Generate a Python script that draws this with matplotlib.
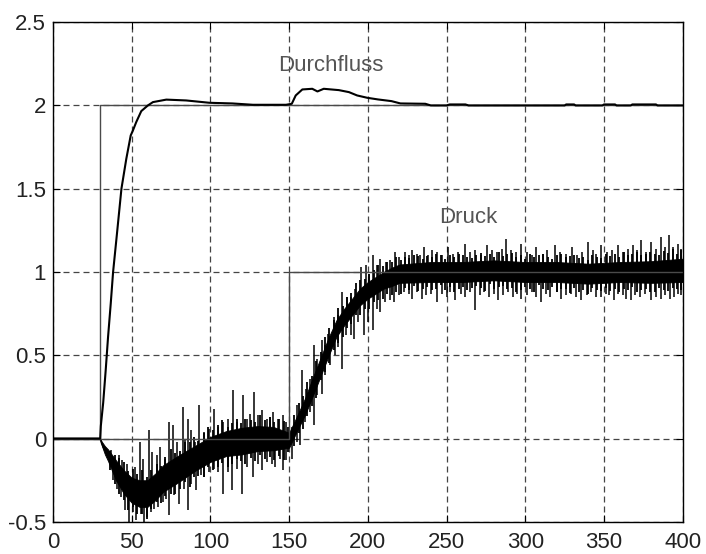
import matplotlib
matplotlib.use('Agg')
import matplotlib.pyplot as plt
import numpy as np

# setpoints (Sollwerte)
sp_fl_x = [0, 30, 30, 400]
sp_fl_y = [0, 0, 2, 2]
sp_pr_x = [0, 150, 150, 400]
sp_pr_y = [0, 0, 1, 1]

# flow response (Durchfluss)
fl_x = [0, 30, 30.4, 31.9, 33.5, 35, 36.7, 38.2, 40.7, 43.5, 46.6, 49.4, 50.8, 52.9,
        56.1, 60.3, 63.5, 72, 84.6, 99.4, 114, 127, 148, 151.7, 154.2, 158.4, 164.7,
        168, 172, 181.6, 188, 193.2, 199.6, 206.5, 215, 220.7, 236.5, 240, 250, 252,
        262, 264, 325, 326, 331, 332, 349, 350, 357, 358, 367, 368, 383, 384, 400]
fl_y = [0, 0, 0.075, 0.214, 0.41, 0.61, 0.81, 1.0, 1.234, 1.5, 1.68, 1.82, 1.85, 1.9,
        1.966, 2.0, 2.02, 2.035, 2.03, 2.016, 2.012, 2.004, 2.004, 2.01, 2.06, 2.096, 2.1,
        2.084, 2.1, 2.092, 2.08, 2.06, 2.046, 2.036, 2.026, 2.012, 2.01, 2.0, 2.0, 2.006,
        2.006, 2.0, 2.0, 2.006, 2.006, 2.0, 2.0, 2.006, 2.006, 2.0, 2.0, 2.006, 2.006, 2.0, 2.0]

# pressure response (Druck): mean value and half width of the dense noise core
pr_x = [0, 30, 31, 33, 35, 40, 45, 50, 55, 60, 65, 70, 80, 90, 100, 110, 120, 130, 140,
        150, 155, 160, 165, 170, 175, 180, 185, 190, 195, 200, 205, 210, 215, 220, 240,
        260, 280, 300, 320, 340, 360, 380, 400]
pr_mean = [0, 0, -0.03, -0.07, -0.1, -0.19, -0.26, -0.31, -0.33, -0.33, -0.29, -0.24,
           -0.18, -0.12, -0.065, -0.03, -0.015, 0.0, 0.0, -0.01, 0.09, 0.19, 0.31, 0.43,
           0.55, 0.66, 0.73, 0.79, 0.85, 0.89, 0.92, 0.95, 0.97, 0.99, 1.0, 1.0, 1.01,
           1.0, 1.0, 0.99, 1.0, 1.0, 1.01]
pr_hw = [0, 0, 0.012, 0.025, 0.035, 0.06, 0.07, 0.075, 0.08, 0.08, 0.08, 0.08, 0.08,
         0.075, 0.075, 0.075, 0.08, 0.075, 0.07, 0.045, 0.045, 0.05, 0.055, 0.055, 0.055,
         0.05, 0.05, 0.05, 0.05, 0.05, 0.05, 0.05, 0.055, 0.055, 0.06, 0.06, 0.06,
         0.06, 0.06, 0.06, 0.06, 0.065, 0.07]

# large noise spikes of the pressure signal (x, tip)
up_x = [37, 42, 44, 47, 52, 55, 57, 61, 63, 66, 68, 71, 74, 76, 79, 82.5, 84, 85.7, 88, 90,
        93, 96, 99, 102.5, 105, 108, 111, 114.6, 117, 120.5, 123, 125, 127.6, 130, 133, 136,
        138, 140, 143, 146, 148,
        152, 155, 158, 161, 163, 165.8, 168, 170.6, 173, 175, 178.5, 181, 183.7, 187, 189,
        192, 195.4, 199, 201, 203.4, 206, 208, 211.5, 214, 217.4, 220, 223.7, 226, 228, 231,
        233, 235.6, 238, 240.7,
        244, 247, 251, 254, 257, 261.8, 265, 268, 272, 275.5, 279, 282, 285, 288, 291, 294,
        297.6, 301, 304, 307, 311, 314, 318.7, 322, 326, 330, 333, 336, 339.9, 343, 345,
        348.4, 352, 355, 358.9, 362, 365, 368.4, 371, 373.7, 377, 380, 383, 386.3, 389,
        391.6, 394, 396.8, 399]
up_y = [-0.07, -0.1, -0.13, -0.15, -0.17, -0.02, -0.12, 0.05, -0.08, -0.1, -0.05, -0.12,
        0.1, 0.08, -0.02, 0.19, 0.0, 0.12, 0.05, -0.02, 0.2, 0.04, 0.06, 0.18, 0.07, 0.1,
        0.12, 0.29, 0.1, 0.26, 0.12, 0.15, 0.28, 0.14, 0.17, 0.12, 0.13, 0.16, 0.12, 0.14, 0.1,
        0.07, 0.2, 0.41, 0.3, 0.36, 0.56, 0.48, 0.59, 0.56, 0.63, 0.73, 0.74, 0.88, 0.85, 0.85,
        0.9, 1.03, 1.04, 0.99, 1.1, 1.04, 1.08, 1.06, 1.07, 1.12, 1.09, 1.12, 1.1, 1.13, 1.11,
        1.1, 1.15, 1.1, 1.13,
        1.12, 1.1, 1.15, 1.11, 1.12, 1.17, 1.12, 1.13, 1.1, 1.16, 1.13, 1.12, 1.14, 1.2, 1.13,
        1.12, 1.17, 1.12, 1.1, 1.15, 1.11, 1.13, 1.16, 1.12, 1.11, 1.15, 1.1, 1.12, 1.18,
        1.13, 1.11, 1.16, 1.12, 1.13, 1.16, 1.12, 1.14, 1.16, 1.13, 1.19, 1.12, 1.18, 1.14,
        1.21, 1.15, 1.22, 1.15, 1.17, 1.14]
dn_x = [38, 41, 43, 46, 48.5, 51, 53, 56, 58, 60, 62, 64.5, 67, 70, 72, 74, 77, 80, 83,
        85.7, 88, 91, 94, 96, 99, 102, 105, 107.8, 111, 114, 117, 120, 123, 127, 130, 133,
        136, 139, 141, 144, 146, 148,
        152, 155, 157, 160.4, 163, 166, 168, 170.6, 173, 176, 179, 181, 183.7, 186, 189, 191,
        194, 197.7, 200, 203.4, 206, 208, 211, 214, 216.7, 220, 223, 226, 228, 231, 234.6,
        237, 240, 244,
        247, 250, 252, 255.5, 259, 262, 265, 268, 271, 274, 277, 280, 283, 286, 289, 292,
        295, 297.6, 301, 304, 307, 310, 313, 316, 320, 323, 326, 329, 332, 335.4, 339, 342,
        345, 348, 351, 353.5, 356.5, 359, 362, 364, 367, 370, 373, 376, 380, 383, 386, 389,
        392, 394.5, 396.8, 399]
dn_y = [-0.25, -0.3, -0.35, -0.43, -0.5, -0.44, -0.49, -0.45, -0.5, -0.47, -0.44, -0.42,
        -0.41, -0.38, -0.36, -0.46, -0.34, -0.39, -0.3, -0.43, -0.27, -0.31, -0.22, -0.23,
        -0.2, -0.18, -0.2, -0.33, -0.2, -0.31, -0.18, -0.33, -0.17, -0.23, -0.15, -0.19,
        -0.14, -0.15, -0.17, -0.12, -0.19, -0.13,
        -0.12, -0.02, -0.04, 0.1, 0.16, 0.08, 0.26, 0.27, 0.38, 0.44, 0.5, 0.55, 0.42, 0.62,
        0.62, 0.6, 0.7, 0.62, 0.7, 0.65, 0.78, 0.76, 0.82, 0.83, 0.82, 0.86, 0.88, 0.87, 0.84,
        0.88, 0.84, 0.86, 0.87, 0.82,
        0.87, 0.85, 0.88, 0.83, 0.87, 0.85, 0.88, 0.77, 0.86, 0.88, 0.85, 0.87, 0.83, 0.86,
        0.88, 0.85, 0.87, 0.84, 0.86, 0.88, 0.85, 0.82, 0.87, 0.85, 0.88, 0.84, 0.86, 0.87,
        0.85, 0.83, 0.86, 0.88, 0.85, 0.85, 0.87, 0.86, 0.83, 0.87, 0.86, 0.84, 0.83, 0.86,
        0.85, 0.87, 0.83, 0.85, 0.84, 0.86, 0.84, 0.85, 0.87, 0.86]

# small noise spikes just outside the core (x, offset above / below mean)
sm_x = [36.5, 39.2, 41.8, 45.1, 47.6, 50.9, 53.7, 56.4, 59.8, 62.5,
        65.9, 68.6, 71.3, 74.8, 77.5, 80.8, 83.6, 86.9, 89.7, 92.4,
        95.8, 98.5, 101.7, 104.6, 107.3, 110.9, 113.5, 116.8, 119.6, 122.3,
        125.9, 128.4, 131.7, 134.5, 137.8, 140.6, 143.3, 146.9, 149.5, 153.2,
        156.1, 158.9, 161.6, 164.4, 167.3, 170.1, 172.8, 175.6, 178.3, 181.2,
        184.1, 186.8, 189.6, 192.7, 195.3, 198.2, 200.9, 203.8, 206.6, 209.5,
        212.3, 215.1, 217.9, 220.8, 223.6, 226.4, 229.2, 232.1, 234.9, 237.7,
        240.6, 243.4, 246.2, 249.1, 251.9, 254.7, 257.6, 260.4, 263.2, 266.1,
        268.9, 271.7, 274.6, 277.4, 280.2, 283.1, 285.9, 288.7, 291.6, 294.4,
        297.2, 300.1, 302.9, 305.7, 308.6, 311.4, 314.2, 317.1, 319.9, 322.7,
        325.6, 328.4, 331.2, 334.1, 336.9, 339.7, 342.6, 345.4, 348.2, 351.1,
        353.9, 356.7, 359.6, 362.4, 365.2, 368.1, 370.9, 373.7, 376.6, 379.4,
        382.2, 385.1, 387.9, 390.7, 393.6, 396.4, 398.8]
sm_up = [0.05, 0.08, 0.10, 0.12, 0.09, 0.13, 0.11, 0.14, 0.10, 0.12,
         0.13, 0.09, 0.12, 0.15, 0.11, 0.10, 0.14, 0.12, 0.13, 0.09,
         0.12, 0.14, 0.11, 0.13, 0.15, 0.10, 0.12, 0.14, 0.11, 0.13,
         0.12, 0.10, 0.14, 0.11, 0.13, 0.10, 0.12, 0.11, 0.08, 0.09,
         0.10, 0.09, 0.11, 0.08, 0.10, 0.09, 0.11, 0.10, 0.09, 0.11,
         0.08, 0.10, 0.09, 0.11, 0.10, 0.08, 0.09, 0.10, 0.11, 0.09,
         0.10, 0.09, 0.11, 0.08, 0.10, 0.09, 0.11, 0.10, 0.08, 0.10,
         0.09, 0.11, 0.10, 0.08, 0.10, 0.09, 0.11, 0.10, 0.09, 0.08,
         0.10, 0.11, 0.09, 0.10, 0.08, 0.11, 0.09, 0.10, 0.11, 0.09,
         0.10, 0.08, 0.11, 0.09, 0.10, 0.11, 0.09, 0.08, 0.10, 0.11,
         0.09, 0.10, 0.11, 0.09, 0.10, 0.08, 0.11, 0.10, 0.09, 0.11,
         0.10, 0.11, 0.09, 0.12, 0.10, 0.11, 0.12, 0.10, 0.11, 0.12,
         0.11, 0.10, 0.12, 0.11, 0.13, 0.10, 0.12]
sm_dn = [0.06, 0.10, 0.12, 0.11, 0.14, 0.10, 0.13, 0.12, 0.15, 0.11,
         0.10, 0.13, 0.11, 0.12, 0.14, 0.13, 0.10, 0.15, 0.11, 0.12,
         0.14, 0.10, 0.13, 0.12, 0.11, 0.14, 0.13, 0.10, 0.12, 0.14,
         0.11, 0.13, 0.10, 0.12, 0.11, 0.13, 0.10, 0.12, 0.07, 0.10,
         0.08, 0.11, 0.09, 0.10, 0.12, 0.08, 0.10, 0.11, 0.09, 0.10,
         0.11, 0.09, 0.10, 0.08, 0.11, 0.10, 0.12, 0.09, 0.10, 0.11,
         0.09, 0.11, 0.10, 0.12, 0.09, 0.10, 0.08, 0.11, 0.10, 0.09,
         0.11, 0.10, 0.08, 0.11, 0.09, 0.12, 0.10, 0.09, 0.11, 0.10,
         0.09, 0.10, 0.12, 0.08, 0.11, 0.10, 0.09, 0.11, 0.10, 0.12,
         0.11, 0.09, 0.10, 0.12, 0.08, 0.10, 0.11, 0.09, 0.12, 0.10,
         0.10, 0.12, 0.09, 0.11, 0.10, 0.12, 0.09, 0.10, 0.11, 0.09,
         0.11, 0.10, 0.12, 0.10, 0.11, 0.09, 0.12, 0.11, 0.10, 0.12,
         0.12, 0.10, 0.11, 0.12, 0.10, 0.11, 0.12]

xticks = [0, 50, 100, 150, 200, 250, 300, 350, 400]
yticks = [-0.5, 0, 0.5, 1, 1.5, 2, 2.5]
ytick_labels = ["-0.5", "0", "0.5", "1", "1.5", "2", "2.5"]


def main():
    plt.rcParams['font.family'] = ['Liberation Sans', 'DejaVu Sans']
    fig = plt.figure(figsize=(7.06, 5.54), dpi=100)
    ax = fig.add_axes([0.075, 0.058, 0.892, 0.902])

    ax.grid(True, color='#444444', linestyle=(0, (4.8, 3.2)), linewidth=0.9)
    ax.set_axisbelow(True)

    # pressure: dense core + spikes
    mean = np.array(pr_mean)
    hw = np.array(pr_hw)
    ax.fill_between(pr_x, mean - hw, mean + hw, color='black', linewidth=0.6, zorder=3)
    ax.plot(pr_x, pr_mean, color='black', linewidth=1.2, zorder=3)
    sm_base = np.interp(sm_x, pr_x, pr_mean)
    ax.vlines(sm_x, sm_base - np.array(sm_dn), sm_base + np.array(sm_up),
              color='black', linewidth=1.3, zorder=3)
    ax.vlines(up_x, np.interp(up_x, pr_x, pr_mean), up_y, color='black', linewidth=1.1, zorder=3)
    ax.vlines(dn_x, np.interp(dn_x, pr_x, pr_mean), dn_y, color='black', linewidth=1.1, zorder=3)

    ax.plot(sp_fl_x, sp_fl_y, color='#4a4a4a', linewidth=1.0, zorder=4)
    ax.plot(sp_pr_x, sp_pr_y, color='#4a4a4a', linewidth=1.0, zorder=4)
    ax.plot(fl_x, fl_y, color='black', linewidth=1.5, zorder=5)

    ax.text(143, 2.206, "Durchfluss", fontsize=16, color='#555555', ha='left', va='baseline')
    ax.text(245.4, 1.292, "Druck", fontsize=16, color='#555555', ha='left', va='baseline')

    ax.set_xlim(0, 400)
    ax.set_ylim(-0.5, 2.5)
    ax.set_xticks(xticks)
    ax.set_yticks(yticks)
    ax.set_yticklabels(ytick_labels)
    ax.tick_params(direction='in', length=5, width=0.8, top=True, right=True,
                   labelsize=16, labelcolor='#222222')
    ax.tick_params(axis='x', pad=7)
    ax.tick_params(axis='y', pad=5)
    for s in ax.spines.values():
        s.set_linewidth(1.0)
        s.set_color('black')
        s.set_zorder(6)

    fig.savefig("out.png", dpi=100)


if __name__ == '__main__':
    main()
